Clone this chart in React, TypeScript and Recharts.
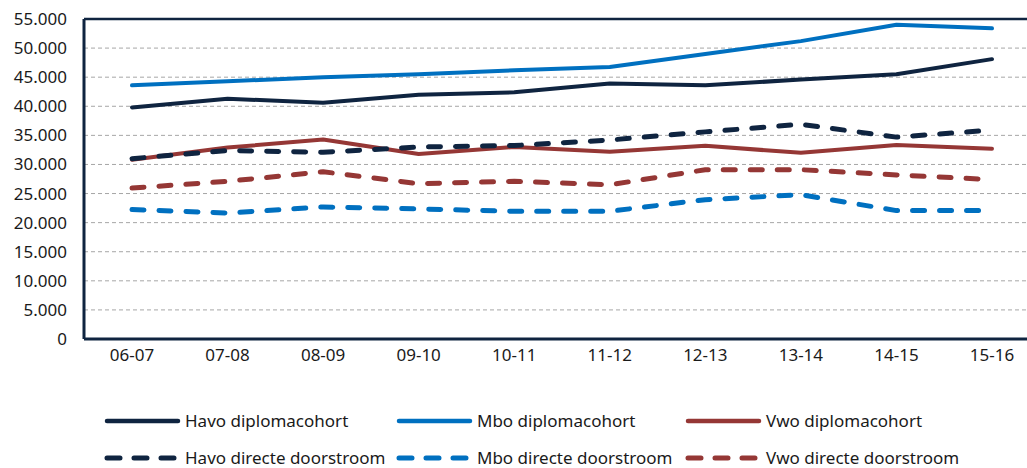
import { CartesianGrid, Line, LineChart, ReferenceLine, XAxis, YAxis } from "recharts";

const years = ["06-07", "07-08", "08-09", "09-10", "10-11", "11-12", "12-13", "13-14", "14-15", "15-16"];

const havoDiploma = [39800, 41300, 40600, 42000, 42400, 43900, 43600, 44600, 45500, 48100];
const mboDiploma = [43600, 44300, 45000, 45500, 46200, 46750, 49000, 51200, 54000, 53400];
const vwoDiploma = [30800, 32900, 34300, 31800, 33000, 32200, 33200, 32000, 33350, 32700];
const havoDirect = [31000, 32400, 32100, 33000, 33250, 34200, 35600, 36900, 34700, 35900];
const mboDirect = [22250, 21650, 22700, 22350, 21950, 21950, 23950, 24800, 22070, 22070];
const vwoDirect = [25950, 27100, 28750, 26700, 27100, 26500, 29100, 29100, 28200, 27400];

const yTicks = [0, 5000, 10000, 15000, 20000, 25000, 30000, 35000, 40000, 45000, 50000, 55000];

const NAVY = "#0f2440";
const BLUE = "#0070c0";
const RED = "#953735";
const INK = "#1a1a1a";
const FONT = '"Noto Sans", "DejaVu Sans", sans-serif';
const DASH = "12 15";

interface Series {
  key: string;
  label: string;
  color: string;
  dashed: boolean;
  values: number[];
}

const series: Series[] = [
  { key: "havoDiploma", label: "Havo diplomacohort", color: NAVY, dashed: false, values: havoDiploma },
  { key: "mboDiploma", label: "Mbo diplomacohort", color: BLUE, dashed: false, values: mboDiploma },
  { key: "vwoDiploma", label: "Vwo diplomacohort", color: RED, dashed: false, values: vwoDiploma },
  { key: "havoDirect", label: "Havo directe doorstroom", color: NAVY, dashed: true, values: havoDirect },
  { key: "mboDirect", label: "Mbo directe doorstroom", color: BLUE, dashed: true, values: mboDirect },
  { key: "vwoDirect", label: "Vwo directe doorstroom", color: RED, dashed: true, values: vwoDirect },
];

const data = years.map((y, i) => {
  const row: Record<string, string | number> = { year: y };
  for (const s of series) row[s.key] = s.values[i];
  return row;
});

// dutch thousands separator
const fmt = (v: number) => String(v).replace(/\B(?=(\d{3})+(?!\d))/g, ".");

const legendCols = [107, 399, 688];
const legendRows = [421, 458];

export default function App() {
  return (
    <div
      style={{
        position: "fixed",
        top: 0,
        left: 0,
        width: 1027,
        height: 468,
        overflow: "hidden",
        background: "#fff",
        fontFamily: FONT,
      }}
    >
      <LineChart width={1060} height={468} data={data} margin={{ top: 19, right: 20, bottom: 99, left: 0 }}>
        <CartesianGrid vertical={false} stroke="#a6a6a6" strokeDasharray="4 3" />
        <XAxis
          dataKey="year"
          height={30}
          padding={{ left: 48, right: 48 }}
          tickLine={false}
          tickSize={0}
          tickMargin={10}
          axisLine={{ stroke: NAVY, strokeWidth: 3 }}
          tick={{ fill: INK, fontSize: 17, fontFamily: FONT }}
        />
        <YAxis
          width={84}
          domain={[0, 55000]}
          ticks={yTicks}
          interval={0}
          tickLine={false}
          tickSize={0}
          tickMargin={17}
          axisLine={{ stroke: NAVY, strokeWidth: 3 }}
          tick={{ fill: INK, fontSize: 17, fontFamily: FONT }}
          tickFormatter={(v) => fmt(Number(v))}
        />
        <ReferenceLine y={55000} stroke={NAVY} strokeWidth={2.5} />
        {series.map((s) => (
          <Line
            key={s.key}
            type="linear"
            dataKey={s.key}
            stroke={s.color}
            strokeWidth={s.dashed ? 5 : 4}
            strokeDasharray={s.dashed ? DASH : undefined}
            strokeLinecap="round"
            strokeLinejoin="round"
            dot={false}
            activeDot={false}
            isAnimationActive={false}
          />
        ))}
      </LineChart>

      {series.map((s, i) => {
        const x = legendCols[i % 3];
        const y = legendRows[Math.floor(i / 3)];
        return (
          <div
            key={s.key}
            style={{
              position: "absolute",
              left: x - 3,
              top: y - 9,
              height: 18,
              lineHeight: "18px",
              display: "flex",
              alignItems: "center",
              whiteSpace: "nowrap",
              fontSize: 17,
              color: INK,
            }}
          >
            <svg width={80} height={18} style={{ display: "block" }}>
              <line
                x1={3}
                x2={74}
                y1={9}
                y2={9}
                stroke={s.color}
                strokeWidth={s.dashed ? 5 : 4.5}
                strokeLinecap="round"
                strokeDasharray={s.dashed ? "13 14" : undefined}
              />
            </svg>
            <span style={{ marginLeft: 1 }}>{s.label}</span>
          </div>
        );
      })}
    </div>
  );
}
